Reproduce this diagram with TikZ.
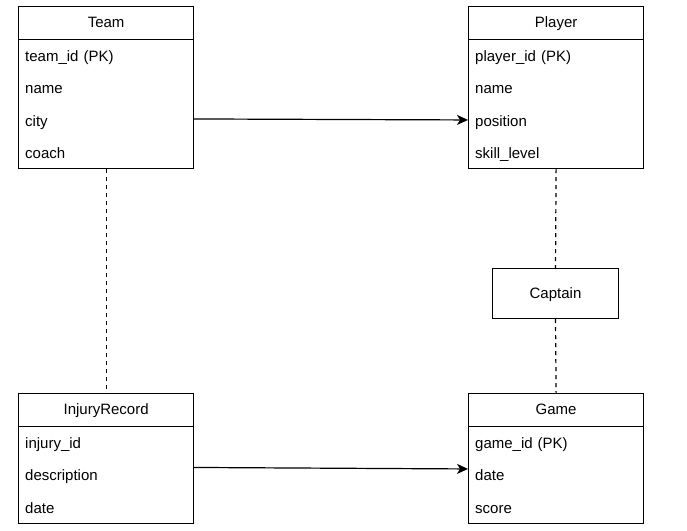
\documentclass[tikz,border=0pt]{standalone}
\usepackage{fontspec}
\setmainfont{Liberation Sans}
\usetikzlibrary{arrows.meta}
\tikzset{
  outer/.style={draw=black, line width=1.2pt, minimum width=175pt, inner sep=0pt, anchor=north west},
  hdr/.style={draw=black, line width=1.2pt, minimum width=175pt, minimum height=32.5pt, inner sep=0pt, text height=12pt, text depth=2pt, anchor=north west, font=\fontsize{15pt}{18pt}\selectfont},
  row/.style={minimum height=32.5pt, text width=161pt, inner xsep=7pt, inner ysep=0pt, text height=13pt, text depth=0pt, align=left, anchor=north west, font=\fontsize{15pt}{18pt}\selectfont},
  plain/.style={draw=black, line width=1.2pt, minimum width=126pt, minimum height=50pt, inner sep=0pt, text height=12pt, text depth=2pt, font=\fontsize{15pt}{18pt}\selectfont},
  dashlink/.style={line width=1.2pt, dash pattern=on 4pt off 4pt},
  arrowlink/.style={line width=1.2pt, -{Stealth[length=11pt, width=10pt, inset=3pt]}}
}
\begin{document}
\begin{tikzpicture}[x=1pt, y=-1pt]
\path[use as bounding box] (0,0) rectangle (687,530);

% Team
\node[outer, minimum height=162pt] (team) at (18,6) {};
\node[hdr] (teamh) at (18,6) {Team};
\node[row] (team1) at (18,38.5) {team\_id (PK)};
\node[row] (team2) at (18,71) {name};
\node[row] (team3) at (18,103.5) {city};
\node[row] (team4) at (18,136) {coach};

% Player
\node[outer, minimum height=162pt] (player) at (468,6) {};
\node[hdr] (playerh) at (468,6) {Player};
\node[row] (player1) at (468,38.5) {player\_id (PK)};
\node[row] (player2) at (468,71) {name};
\node[row] (player3) at (468,103.5) {position};
\node[row] (player4) at (468,136) {skill\_level};

% Captain
\node[plain] (captain) at (555.5,293.5) {Captain};

% InjuryRecord
\node[outer, minimum height=130pt] (injury) at (18,393) {};
\node[hdr] (injuryh) at (18,393) {InjuryRecord};
\node[row] (injury1) at (18,425.5) {injury\_id};
\node[row] (injury2) at (18,458) {description};
\node[row] (injury3) at (18,490.5) {date};

% Game
\node[outer, minimum height=130pt] (game) at (468,393) {};
\node[hdr] (gameh) at (468,393) {Game};
\node[row] (game1) at (468,425.5) {game\_id (PK)};
\node[row] (game2) at (468,458) {date};
\node[row] (game3) at (468,490.5) {score};

% connectors
\draw[arrowlink] ([yshift=1pt]team3.east) -- (player3.west);
\draw[arrowlink] ([yshift=7pt]injury2.east) -- ([yshift=5.5pt]game2.west);
\draw[dashlink] (team.south) -- (injuryh.north);
\draw[dashlink] (player.south) -- (captain.north);
\draw[dashlink] (captain.south) -- (gameh.north);
\end{tikzpicture}
\end{document}
